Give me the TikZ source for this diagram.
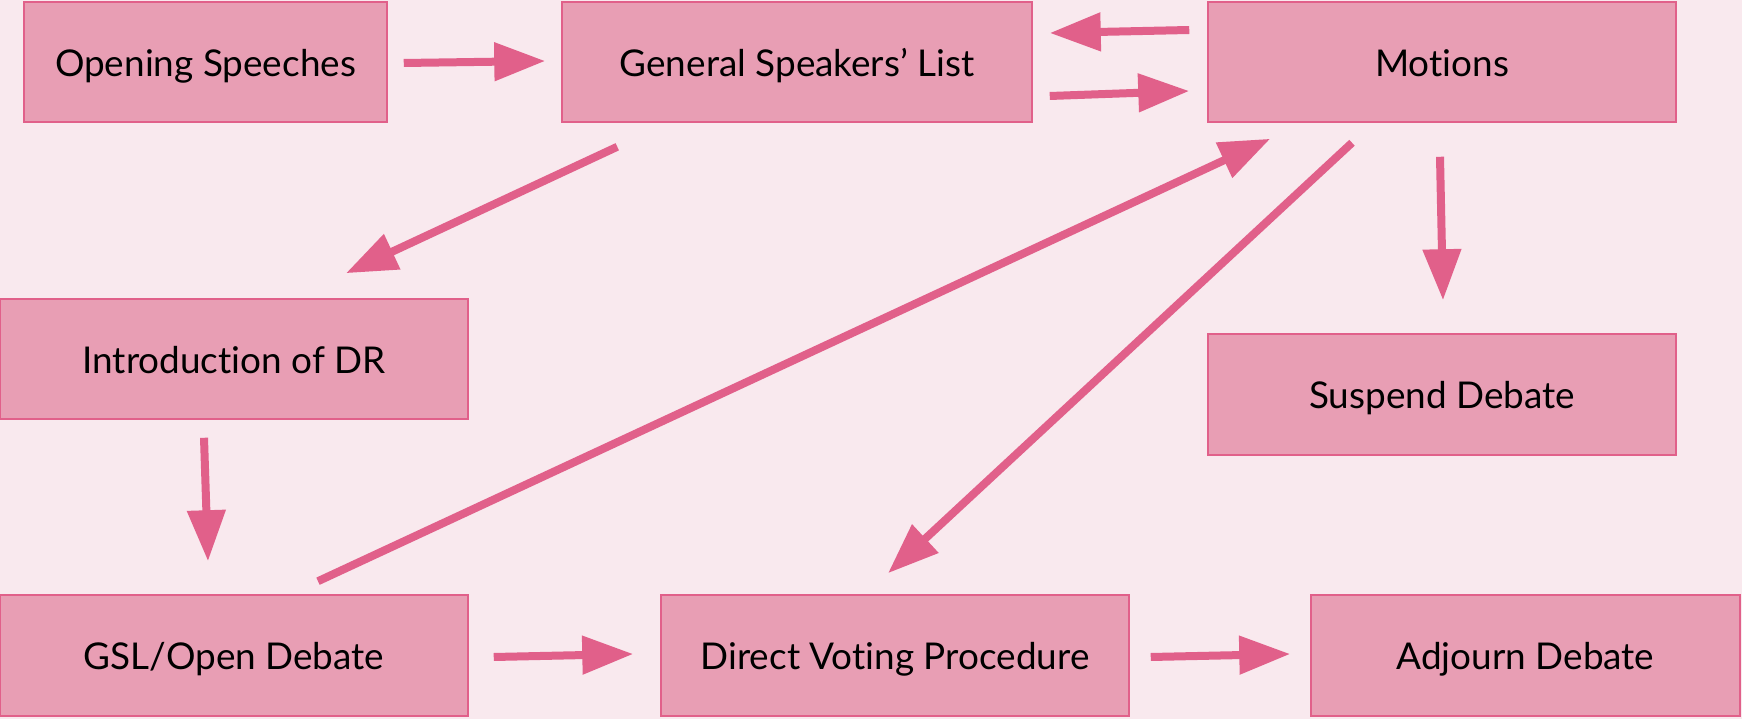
\documentclass[tikz,border=0pt]{standalone}
\usepackage{fontspec}
\setmainfont{Lato}[Ligatures=NoCommon]
\usepackage{xcolor}
\usetikzlibrary{positioning,arrows.meta}
\definecolor{bgpink}{RGB}{249,233,238}
\definecolor{boxpink}{RGB}{232,158,180}
\definecolor{edgepink}{RGB}{225,96,138}

\begin{document}
\begin{tikzpicture}[x=0.02cm,y=-0.02cm,
  box/.style={draw=edgepink,line width=0.9pt,fill=boxpink,align=center,
              font=\fontsize{21}{26}\selectfont,inner sep=0pt,
              text height=18pt,text depth=2pt,
              minimum width=9.36cm,minimum height=2.42cm},
  arr/.style={-{Triangle[length=1.02cm,width=0.74cm]},line width=0.16cm,draw=edgepink}]
% background and page size
\fill[bgpink] (0,0) rectangle (1742,719);
\useasboundingbox (0,0) rectangle (1742,719);
% top row
\node[box,minimum width=7.26cm,minimum height=2.4cm] (open) at (205.5,62) {Opening Speeches};
\node[box,minimum width=9.4cm,minimum height=2.4cm]  (gsl)  at (797,62)   {General Speakers’ List};
\node[box,minimum height=2.4cm] (mot) at (1442,62) {Motions};
% middle
\node[box,minimum height=2.4cm] (intro) at (234,359)   {Introduction of DR};
\node[box]                      (susp)  at (1442,394.5) {Suspend Debate};
% bottom row
\node[box] (gslo) at (234,655.5) {GSL/Open Debate};
\node[box] (dvp)  at (895,655.5) {Direct Voting Procedure};
\node[box,minimum width=8.58cm] (adj) at (1525.5,655.5) {Adjourn Debate};
% connectors
\draw[arr] ([shift={(16,1)}]open.east) -- ([shift={(-16,-1)}]gsl.west);
\draw[arr] ([shift={(17,34)}]gsl.east) -- ([shift={(-18,29)}]mot.west);
\draw[arr] ([shift={(-18,-32)}]mot.west) -- ([shift={(17,-29)}]gsl.east);
\draw[arr] ([shift={(56,24)}]gsl.south west) -- ([shift={(112,-25)}]intro.north);
\draw[arr] ([shift={(-30,18)}]intro.south) -- ([shift={(-26,-33)}]gslo.north);
\draw[arr] ([shift={(84,-13)}]gslo.north) -- ([shift={(63,16)}]mot.south west);
\draw[arr] ([shift={(-90,20)}]mot.south) -- ([shift={(-7,-21)}]dvp.north);
\draw[arr] ([shift={(-2,34)}]mot.south) -- ([shift={(1,-33)}]susp.north);
\draw[arr] ([shift={(25,1.5)}]gslo.east) -- ([shift={(-27,-1.5)}]dvp.west);
\draw[arr] ([shift={(21,1.5)}]dvp.east) -- ([shift={(-20,-1.5)}]adj.west);
\end{tikzpicture}
\end{document}
